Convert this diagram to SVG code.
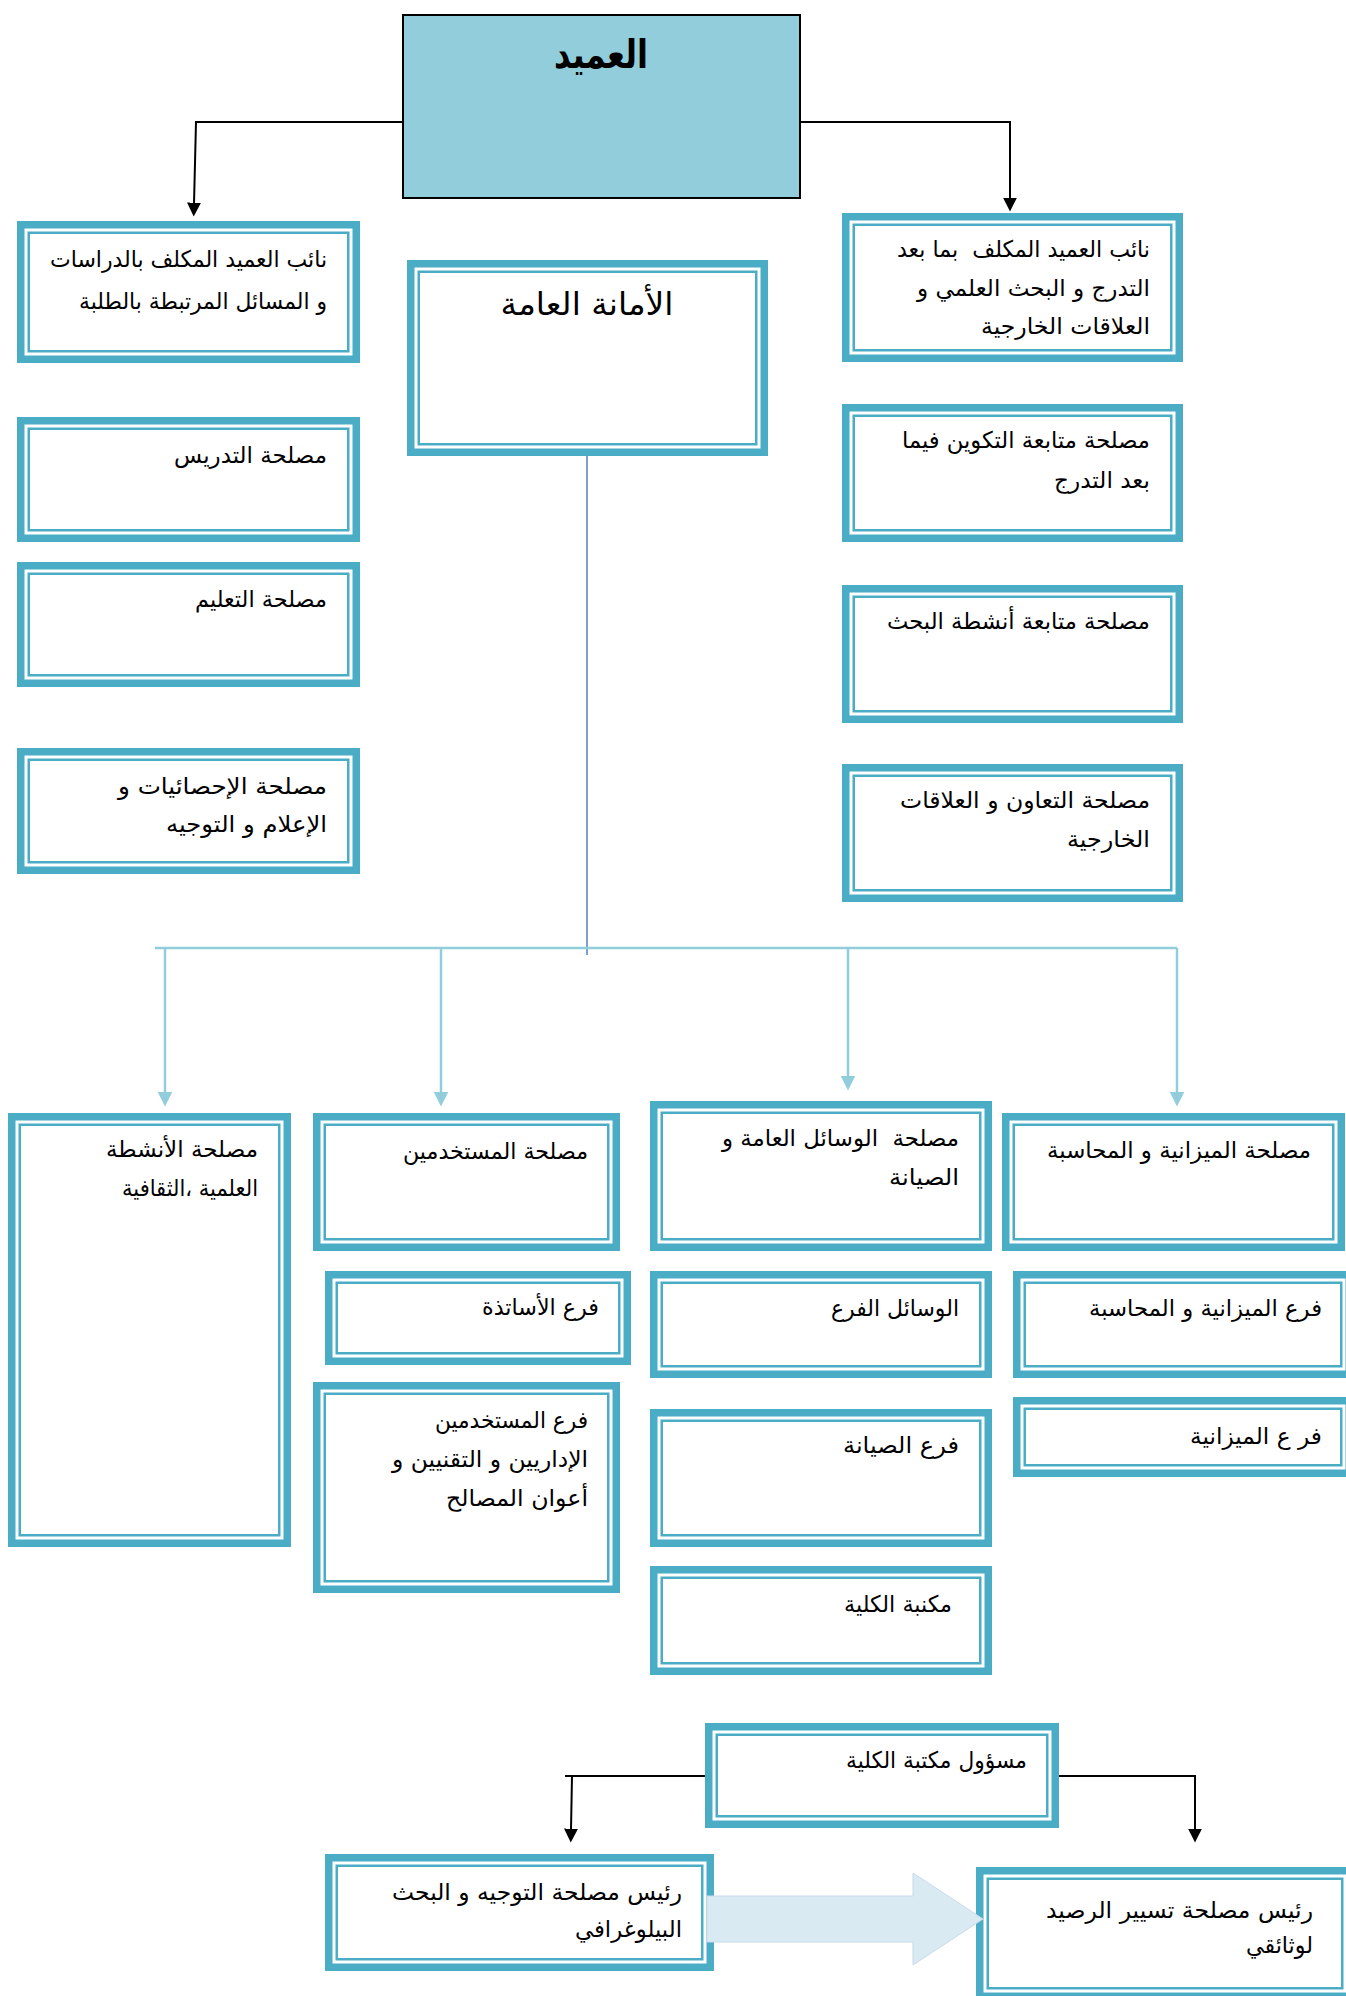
<svg xmlns="http://www.w3.org/2000/svg" width="1346" height="1996" viewBox="0 0 1346 1996">
  <style>
    .band { fill: #ffffff; stroke: #4BACC6; stroke-width: 7.5; }
    .rule { fill: none; stroke: #4BACC6; stroke-width: 2.5; }
    .t { font-family: "DejaVu Sans", sans-serif; font-size: 23px; fill: #000000; direction: rtl; unicode-bidi: embed; text-anchor: start; white-space: pre; }
    .blk { fill: none; stroke: #000000; stroke-width: 2; }
    .lt { fill: none; stroke: #92CDDC; stroke-width: 2.5; }
  </style>
  <defs>
    <marker id="ah-black" viewBox="0 0 10 10" refX="1" refY="5" markerUnits="userSpaceOnUse" markerWidth="14" markerHeight="14" orient="auto">
      <path d="M0 0 L10 5 L0 10 Z" fill="#000000"/>
    </marker>
    <marker id="ah-light" viewBox="0 0 10 10" refX="1" refY="5" markerUnits="userSpaceOnUse" markerWidth="15" markerHeight="15" orient="auto">
      <path d="M0 0 L10 5 L0 10 Z" fill="#92CDDC"/>
    </marker>
  </defs>

  <rect width="1346" height="1996" fill="#ffffff"/>

  <!-- connectors -->
  <g id="connectors">
    <path class="blk" d="M403 122 H196 L194 204" marker-end="url(#ah-black)"/>
    <path class="blk" d="M800 122 H1010 V199" marker-end="url(#ah-black)"/>
    <path d="M587 456 V955" fill="none" stroke="#4F81BD" stroke-width="1.5"/>
    <path class="lt" d="M155 948 H1177"/>
    <path class="lt" d="M165 948 V1093" marker-end="url(#ah-light)"/>
    <path class="lt" d="M441 948 V1093" marker-end="url(#ah-light)"/>
    <path class="lt" d="M848 948 V1077" marker-end="url(#ah-light)"/>
    <path class="lt" d="M1177 948 V1093" marker-end="url(#ah-light)"/>
    <path class="blk" d="M705 1776 H565"/>
    <path class="blk" d="M572 1776 L571 1830" marker-end="url(#ah-black)"/>
    <path class="blk" d="M1059 1776 H1195 V1830" marker-end="url(#ah-black)"/>
  </g>

  <!-- dean -->
  <g id="dean">
    <rect x="403" y="15" width="397" height="183" fill="#92CDDC" stroke="#000000" stroke-width="2"/>
    <text class="t" x="601" y="68" style="font-size:40px;font-weight:bold;text-anchor:middle" textLength="94" lengthAdjust="spacingAndGlyphs">العميد</text>
  </g>

  <!-- vice dean, studies -->
  <g id="vp-studies">
    <rect class="band" x="20.75" y="224.75" width="335.5" height="134.5"/>
    <rect class="rule" x="28.75" y="232.75" width="319.5" height="118.5"/>
    <text class="t" x="327" y="267" textLength="277" lengthAdjust="spacingAndGlyphs">نائب العميد المكلف بالدراسات</text>
    <text class="t" x="327" y="309" textLength="248" lengthAdjust="spacingAndGlyphs">و المسائل المرتبطة بالطلبة</text>
  </g>

  <!-- vice dean, post-graduation -->
  <g id="vp-research">
    <rect class="band" x="845.75" y="216.75" width="333.5" height="141.5"/>
    <rect class="rule" x="853.75" y="224.75" width="317.5" height="125.5"/>
    <text class="t" x="1150" y="257" textLength="253" lengthAdjust="spacingAndGlyphs">نائب العميد المكلف  بما بعد</text>
    <text class="t" x="1150" y="296" textLength="233" lengthAdjust="spacingAndGlyphs">التدرج و البحث العلمي و</text>
    <text class="t" x="1150" y="334" textLength="169" lengthAdjust="spacingAndGlyphs">العلاقات الخارجية</text>
  </g>

  <!-- general secretariat -->
  <g id="secretariat">
    <rect class="band" x="410.75" y="263.75" width="353.5" height="188.5"/>
    <rect class="rule" x="418.75" y="271.75" width="337.5" height="172.5"/>
    <text class="t" x="587" y="315" style="font-size:32px;text-anchor:middle" textLength="173" lengthAdjust="spacingAndGlyphs">الأمانة العامة</text>
  </g>

  <!-- left column services -->
  <g id="svc-teaching">
    <rect class="band" x="20.75" y="420.75" width="335.5" height="117.5"/>
    <rect class="rule" x="28.75" y="428.75" width="319.5" height="101.5"/>
    <text class="t" x="327" y="463" textLength="153" lengthAdjust="spacingAndGlyphs">مصلحة التدريس</text>
  </g>
  <g id="svc-education">
    <rect class="band" x="20.75" y="565.75" width="335.5" height="117.5"/>
    <rect class="rule" x="28.75" y="573.75" width="319.5" height="101.5"/>
    <text class="t" x="327" y="607" textLength="132" lengthAdjust="spacingAndGlyphs">مصلحة التعليم</text>
  </g>
  <g id="svc-statistics">
    <rect class="band" x="20.75" y="751.75" width="335.5" height="118.5"/>
    <rect class="rule" x="28.75" y="759.75" width="319.5" height="102.5"/>
    <text class="t" x="327" y="794" textLength="209" lengthAdjust="spacingAndGlyphs">مصلحة الإحصائيات و</text>
    <text class="t" x="327" y="832" textLength="161" lengthAdjust="spacingAndGlyphs">الإعلام و التوجيه</text>
  </g>

  <!-- right column services -->
  <g id="svc-training">
    <rect class="band" x="845.75" y="407.75" width="333.5" height="130.5"/>
    <rect class="rule" x="853.75" y="415.75" width="317.5" height="114.5"/>
    <text class="t" x="1150" y="448" textLength="248" lengthAdjust="spacingAndGlyphs">مصلحة متابعة التكوين فيما</text>
    <text class="t" x="1150" y="488" textLength="96" lengthAdjust="spacingAndGlyphs">بعد التدرج</text>
  </g>
  <g id="svc-research">
    <rect class="band" x="845.75" y="588.75" width="333.5" height="130.5"/>
    <rect class="rule" x="853.75" y="596.75" width="317.5" height="114.5"/>
    <text class="t" x="1150" y="629" textLength="263" lengthAdjust="spacingAndGlyphs">مصلحة متابعة أنشطة البحث</text>
  </g>
  <g id="svc-cooperation">
    <rect class="band" x="845.75" y="767.75" width="333.5" height="130.5"/>
    <rect class="rule" x="853.75" y="775.75" width="317.5" height="114.5"/>
    <text class="t" x="1150" y="808" textLength="250" lengthAdjust="spacingAndGlyphs">مصلحة التعاون و العلاقات</text>
    <text class="t" x="1150" y="847" textLength="83" lengthAdjust="spacingAndGlyphs">الخارجية</text>
  </g>

  <!-- lower row -->
  <g id="svc-activities">
    <rect class="band" x="11.75" y="1116.75" width="275.5" height="426.5"/>
    <rect class="rule" x="19.75" y="1124.75" width="259.5" height="410.5"/>
    <text class="t" x="258" y="1157" textLength="152" lengthAdjust="spacingAndGlyphs">مصلحة الأنشطة</text>
    <text class="t" x="258" y="1196" textLength="136" lengthAdjust="spacingAndGlyphs">العلمية ،الثقافية</text>
  </g>
  <g id="svc-staff">
    <rect class="band" x="316.75" y="1116.75" width="299.5" height="130.5"/>
    <rect class="rule" x="324.75" y="1124.75" width="283.5" height="114.5"/>
    <text class="t" x="588" y="1159" textLength="185" lengthAdjust="spacingAndGlyphs">مصلحة المستخدمين</text>
  </g>
  <g id="br-teachers">
    <rect class="band" x="328.75" y="1274.75" width="298.5" height="86.5"/>
    <rect class="rule" x="336.75" y="1282.75" width="282.5" height="70.5"/>
    <text class="t" x="599" y="1315" textLength="117" lengthAdjust="spacingAndGlyphs">فرع الأساتذة</text>
  </g>
  <g id="br-admin">
    <rect class="band" x="316.75" y="1385.75" width="299.5" height="203.5"/>
    <rect class="rule" x="324.75" y="1393.75" width="283.5" height="187.5"/>
    <text class="t" x="588" y="1428" textLength="153" lengthAdjust="spacingAndGlyphs">فرع المستخدمين</text>
    <text class="t" x="588" y="1467" textLength="196" lengthAdjust="spacingAndGlyphs">الإداريين و التقنيين و</text>
    <text class="t" x="588" y="1506" textLength="142" lengthAdjust="spacingAndGlyphs">أعوان المصالح</text>
  </g>
  <g id="svc-means">
    <rect class="band" x="653.75" y="1104.75" width="334.5" height="142.5"/>
    <rect class="rule" x="661.75" y="1112.75" width="318.5" height="126.5"/>
    <text class="t" x="959" y="1146" textLength="237" lengthAdjust="spacingAndGlyphs">مصلحة  الوسائل العامة و</text>
    <text class="t" x="959" y="1185" textLength="70" lengthAdjust="spacingAndGlyphs">الصيانة</text>
  </g>
  <g id="br-means">
    <rect class="band" x="653.75" y="1274.75" width="334.5" height="99.5"/>
    <rect class="rule" x="661.75" y="1282.75" width="318.5" height="83.5"/>
    <text class="t" x="959" y="1316" textLength="128" lengthAdjust="spacingAndGlyphs">الوسائل الفرع</text>
  </g>
  <g id="br-maintenance">
    <rect class="band" x="653.75" y="1412.75" width="334.5" height="130.5"/>
    <rect class="rule" x="661.75" y="1420.75" width="318.5" height="114.5"/>
    <text class="t" x="959" y="1453" textLength="116" lengthAdjust="spacingAndGlyphs">فرع الصيانة</text>
  </g>
  <g id="library">
    <rect class="band" x="653.75" y="1569.75" width="334.5" height="101.5"/>
    <rect class="rule" x="661.75" y="1577.75" width="318.5" height="85.5"/>
    <text class="t" x="952" y="1612" textLength="108" lengthAdjust="spacingAndGlyphs">مكنبة الكلية</text>
  </g>
  <g id="svc-budget">
    <rect class="band" x="1005.75" y="1116.75" width="335.5" height="130.5"/>
    <rect class="rule" x="1013.75" y="1124.75" width="319.5" height="114.5"/>
    <text class="t" x="1311" y="1158" textLength="264" lengthAdjust="spacingAndGlyphs">مصلحة الميزانية و المحاسبة</text>
  </g>
  <g id="br-budget-accounting">
    <rect class="band" x="1016.75" y="1274.75" width="332.5" height="99.5"/>
    <rect class="rule" x="1024.75" y="1282.75" width="316.5" height="83.5"/>
    <text class="t" x="1322" y="1316" textLength="233" lengthAdjust="spacingAndGlyphs">فرع الميزانية و المحاسبة</text>
  </g>
  <g id="br-budget">
    <rect class="band" x="1016.75" y="1400.75" width="332.5" height="72.5"/>
    <rect class="rule" x="1024.75" y="1408.75" width="316.5" height="56.5"/>
    <text class="t" x="1322" y="1444" textLength="132" lengthAdjust="spacingAndGlyphs">فر ع الميزانية</text>
  </g>

  <!-- library organisation -->
  <g id="library-head">
    <rect class="band" x="708.75" y="1726.75" width="346.5" height="97.5"/>
    <rect class="rule" x="716.75" y="1734.75" width="330.5" height="81.5"/>
    <text class="t" x="1027" y="1768" textLength="181" lengthAdjust="spacingAndGlyphs">مسؤول مكتبة الكلية</text>
  </g>
  <g id="head-guidance">
    <rect class="band" x="328.75" y="1857.75" width="381.5" height="109.5"/>
    <rect class="rule" x="336.75" y="1865.75" width="365.5" height="93.5"/>
    <text class="t" x="682" y="1900" textLength="290" lengthAdjust="spacingAndGlyphs">رئيس مصلحة التوجيه و البحث</text>
    <text class="t" x="682" y="1937" textLength="107" lengthAdjust="spacingAndGlyphs">البيلوغرافي</text>
  </g>
  <g id="head-holdings">
    <rect class="band" x="979.75" y="1870.75" width="370.5" height="125.5"/>
    <rect class="rule" x="987.75" y="1878.75" width="354.5" height="109.5"/>
    <text class="t" x="1313" y="1918" textLength="267" lengthAdjust="spacingAndGlyphs">رئيس مصلحة تسيير الرصيد</text>
    <text class="t" x="1313" y="1953" textLength="67" lengthAdjust="spacingAndGlyphs">لوثائقي</text>
  </g>

  <!-- block arrow between the two heads -->
  <g id="block-arrow">
    <polygon points="707,1896 913,1896 913,1873 983,1919 913,1965 913,1942 707,1942" fill="#DAEAF3" stroke="#C8DAEC" stroke-width="1"/>
  </g>
</svg>
